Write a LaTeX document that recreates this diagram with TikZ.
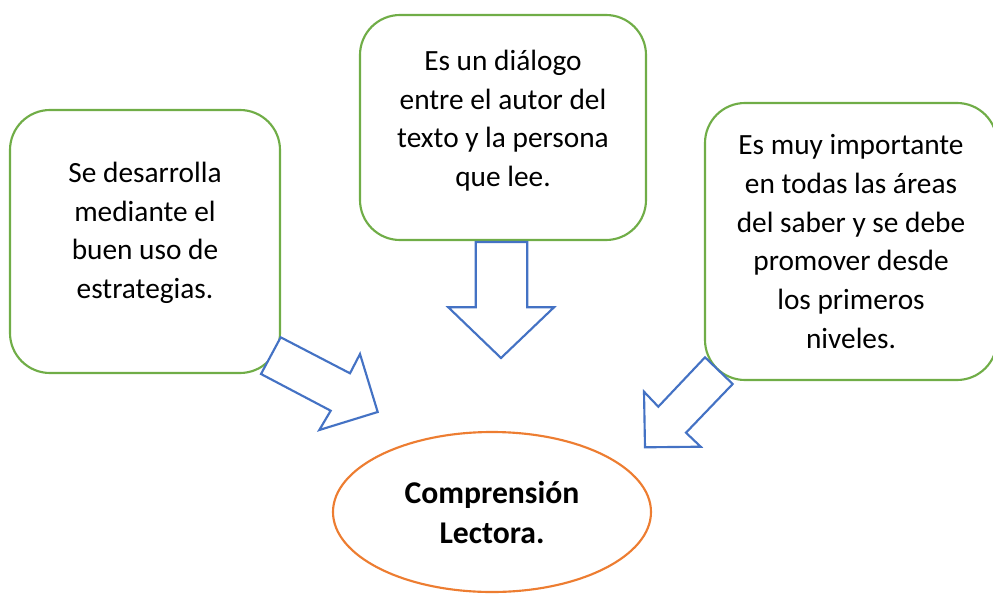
\documentclass[tikz,border=0pt]{standalone}
\usepackage{fontspec}
\setmainfont{Carlito}
\usetikzlibrary{shapes.geometric}
\definecolor{verdeidea}{RGB}{112,173,71}
\definecolor{azulflecha}{RGB}{68,114,196}
\definecolor{naranjatema}{RGB}{237,125,49}
\tikzstyle{idea} = [rectangle, 
rounded corners=30pt, 
text centered, 
align=center,
font=\fontsize{22}{29}\selectfont,
line width=1.6pt,
draw=verdeidea, 
fill=white]
\tikzstyle{tema} = [ellipse, 
minimum width=238.5pt, 
minimum height=120pt, 
align=center,
font=\bfseries\fontsize{23.75}{30}\selectfont,
line width=1.6pt,
draw=naranjatema, 
fill=white]
\tikzstyle{flecha} = [line width=1.6pt,
line join=miter,
draw=azulflecha, 
fill=white]

\begin{document}
\begin{tikzpicture}[x=0.75pt, y=-0.75pt]
\useasboundingbox (0,0) rectangle (993,593);
\node (estrategias) [idea, minimum width=202.5pt, minimum height=197.25pt, text depth=17pt] at (145,241.5) {Se desarrolla\\mediante el\\buen uso de\\estrategias.};
\node (dialogo) [idea, minimum width=214.5pt, minimum height=168.75pt, text depth=14pt] at (503,127.5) {Es un diálogo\\entre el autor del\\texto y la persona\\que lee.};
\node (niveles) [idea, minimum width=219pt, minimum height=207.75pt] at (851,241.5) {Es muy importante\\en todas las áreas\\del saber y se debe\\promover desde\\los primeros\\niveles.};
\node (comprension) [tema] at (492,512) {Comprensión\\Lectora.};

% flechas de bloque hacia el tema central
\draw [flecha] (280.7,337.3) -- (350,373.3) -- (360,354) -- (377.7,412) -- (319.3,430) -- (330.7,410.7) -- (261,374) -- cycle;
\draw [flecha] (475.7,242) -- (527.3,242) -- (527.3,307.3) -- (554,307.3) -- (501,358) -- (448.3,307.3) -- (475.7,307.3) -- cycle;
\draw [flecha] (705,357.3) -- (732.7,384) -- (686,432.7) -- (700.7,446.7) -- (645,447.3) -- (644,391.7) -- (658.3,406.7) -- cycle;
\end{tikzpicture}
\end{document}
